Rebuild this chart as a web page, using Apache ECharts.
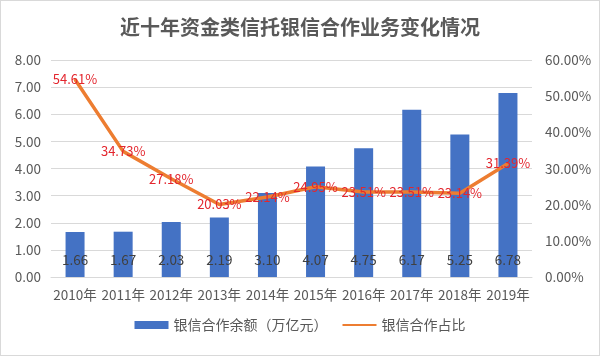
<!DOCTYPE html>
<html><head><meta charset="utf-8">
<script src="https://cdn.jsdelivr.net/npm/echarts@6/dist/echarts.min.js"></script>
<style>html,body{margin:0;padding:0;background:#fff}#c{width:598px;height:354px;border:1px solid #d9d9d9;}</style>
</head><body><div id="c"></div>
<script>
const categories = ['2010年','2011年','2012年','2013年','2014年','2015年','2016年','2017年','2018年','2019年'];
const balance = [1.66,1.67,2.03,2.19,3.10,4.07,4.75,6.17,5.25,6.78];
const ratio = [54.61,34.73,27.18,20.03,22.14,24.95,23.51,23.51,23.14,31.39];
const titleText = '近十年资金类信托银信合作业务变化情况';
const seriesNames = ['银信合作余额（万亿元）','银信合作占比'];

const font = '"Noto Sans CJK SC", sans-serif';
const chart = echarts.init(document.getElementById('c'));
chart.setOption({
  animation:false,
  textStyle:{fontFamily:font},
  title:{text:titleText,left:'center',top:11,textStyle:{fontSize:20,fontWeight:'bold',color:'#595959',fontFamily:font}},
  legend:{bottom:18,left:'center',itemWidth:34,itemHeight:8,itemGap:14,textStyle:{fontSize:14,color:'#595959',fontFamily:font},
    data:[{name:seriesNames[0],icon:'rect'},{name:seriesNames[1],itemStyle:{opacity:0}}]},
  grid:{left:50,right:67,top:59,bottom:78},
  xAxis:{type:'category',data:categories,axisLine:{lineStyle:{color:'#d9d9d9'}},axisTick:{show:false},
    axisLabel:{color:'#595959',fontSize:13.5,margin:11,interval:0}},
  yAxis:[
    {type:'value',min:0,max:8,interval:1,axisLabel:{color:'#595959',fontSize:13.5,margin:10,formatter:v=>v.toFixed(2)},
     splitLine:{lineStyle:{color:'#d9d9d9'}},axisLine:{show:false},axisTick:{show:false}},
    {type:'value',min:0,max:60,interval:10,axisLabel:{color:'#595959',fontSize:13.5,margin:13,formatter:v=>v.toFixed(2)+'%'},
     splitLine:{show:false},axisLine:{show:false},axisTick:{show:false}}
  ],
  series:[
    {name:seriesNames[0],type:'bar',data:balance,barWidth:19,itemStyle:{color:'#4472C4'},
     label:{show:true,position:'insideBottom',distance:10,color:'#404040',fontSize:13.5,formatter:p=>p.value.toFixed(2)}},
    {name:seriesNames[1],type:'line',yAxisIndex:1,data:ratio,symbol:'circle',symbolSize:2,showSymbol:true,
     lineStyle:{color:'#ED7D31',width:3.5},itemStyle:{color:'#ED7D31'},z:5,
     label:{show:true,position:'inside',color:'#E3262E',fontSize:13,formatter:p=>p.value.toFixed(2)+'%'},
     labelLayout:{hideOverlap:false}}
  ]
});
</script></body></html>
